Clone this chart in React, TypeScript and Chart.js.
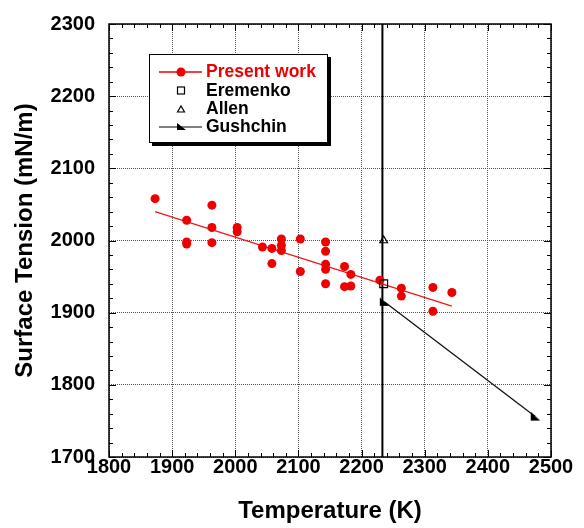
import { useEffect, useRef } from 'react';
import { Chart, registerables } from 'chart.js';

Chart.register(...registerables);

const FONT = '"Liberation Sans", Arial, Helvetica, sans-serif';
const RED = '#ee0000';

// Axis ticks
const xTickValues = [1800, 1900, 2000, 2100, 2200, 2300, 2400, 2500];
const yTickValues = [1700, 1800, 1900, 2000, 2100, 2200, 2300];
const xMinorStep = 20;
const yMinorStep = 20;

// Present work (measured points)
const presentTemp = [1873, 1923, 1923, 1923, 1963, 1963, 1963, 2003, 2003, 2043, 2058, 2058, 2073, 2073, 2073, 2103, 2103, 2143, 2143, 2143, 2143, 2143, 2173, 2173, 2183, 2183, 2229, 2263, 2263, 2313, 2313, 2343];
const presentTension = [2058, 2028, 1998, 1995, 2049, 2018, 1997, 2018, 2012, 1991, 1989, 1968, 2002, 1993, 1986, 2002, 1957, 1998, 1985, 1967, 1960, 1940, 1964, 1936, 1953, 1937, 1945, 1934, 1923, 1935, 1902, 1928];

// Present work linear fit
const fitTemp = [1873, 2343];
const fitTension = [2040, 1909];

// Literature
const eremenkoTemp = [2235];
const eremenkoTension = [1940];
const allenTemp = [2235];
const allenTension = [2000];
const gushchinTemp = [2236, 2475];
const gushchinTension = [1915, 1756];

// Melting point marker line
const meltTemp = [2233, 2233];
const meltTension = [1700, 2300];

const pts = (xs: number[], ys: number[]) => xs.map((x, i) => ({ x, y: ys[i] }));

function makeFlag(): HTMLCanvasElement {
  const c = document.createElement('canvas');
  c.width = 11;
  c.height = 10;
  const g = c.getContext('2d')!;
  g.fillStyle = '#000';
  g.beginPath();
  g.moveTo(1, 0.5);
  g.lineTo(1, 9);
  g.lineTo(10.5, 9);
  g.closePath();
  g.fill();
  return c;
}

const decorPlugin = {
  id: 'decor',
  afterDraw(chart: any) {
    const { ctx, chartArea: a, scales } = chart;
    const xs = scales.x;
    const ys = scales.y;
    ctx.save();
    ctx.strokeStyle = '#000';
    ctx.lineWidth = 1;
    ctx.beginPath();
    for (let v = xs.min; v <= xs.max; v += xMinorStep) {
      const px = Math.round(xs.getPixelForValue(v)) + 0.5;
      const len = v % 100 === 0 ? 7 : 4;
      ctx.moveTo(px, a.bottom);
      ctx.lineTo(px, a.bottom - len);
      ctx.moveTo(px, a.top);
      ctx.lineTo(px, a.top + len);
    }
    for (let v = ys.min; v <= ys.max; v += yMinorStep) {
      const py = Math.round(ys.getPixelForValue(v)) + 0.5;
      const len = v % 100 === 0 ? 7 : 4;
      ctx.moveTo(a.left, py);
      ctx.lineTo(a.left + len, py);
      ctx.moveTo(a.right, py);
      ctx.lineTo(a.right - len, py);
    }
    ctx.stroke();
    ctx.lineWidth = 1.5;
    ctx.strokeRect(a.left, a.top, a.right - a.left, a.bottom - a.top);

    // Legend box
    const bx = 149, by = 54, bw = 179, bh = 89;
    ctx.fillStyle = '#000';
    ctx.fillRect(bx + 3, by + 3, bw, bh);
    ctx.fillStyle = '#fff';
    ctx.fillRect(bx, by, bw, bh);
    ctx.lineWidth = 1;
    ctx.strokeStyle = '#000';
    ctx.strokeRect(bx + 0.5, by + 0.5, bw - 1, bh - 1);

    const lx0 = 159, lx1 = 202, mx = 181, tx = 206;
    const rows = [72, 90.5, 109, 127];
    const labels = chart.data.datasets
      .filter((d: any) => d.legendRow !== undefined)
      .sort((p: any, q: any) => p.legendRow - q.legendRow);
    ctx.font = `bold 17.5px ${FONT}`;
    ctx.textBaseline = 'middle';
    ctx.textAlign = 'left';
    labels.forEach((d: any, i: number) => {
      const y = rows[i];
      if (d.legendKind === 'present') {
        ctx.strokeStyle = RED;
        ctx.lineWidth = 1.5;
        ctx.beginPath();
        ctx.moveTo(lx0, y);
        ctx.lineTo(lx1, y);
        ctx.stroke();
        ctx.fillStyle = RED;
        ctx.beginPath();
        ctx.arc(mx, y, 4.5, 0, Math.PI * 2);
        ctx.fill();
        ctx.fillStyle = RED;
      } else if (d.legendKind === 'square') {
        ctx.strokeStyle = '#000';
        ctx.lineWidth = 1.2;
        ctx.strokeRect(mx - 3.5, y - 3.5, 7, 7);
        ctx.fillStyle = '#000';
      } else if (d.legendKind === 'triangle') {
        ctx.strokeStyle = '#000';
        ctx.lineWidth = 1.2;
        ctx.beginPath();
        ctx.moveTo(mx, y - 3);
        ctx.lineTo(mx + 3.5, y + 3);
        ctx.lineTo(mx - 3.5, y + 3);
        ctx.closePath();
        ctx.stroke();
        ctx.fillStyle = '#000';
      } else {
        ctx.strokeStyle = '#000';
        ctx.lineWidth = 1.2;
        ctx.beginPath();
        ctx.moveTo(lx0, y);
        ctx.lineTo(lx1, y);
        ctx.stroke();
        ctx.fillStyle = '#000';
        ctx.beginPath();
        ctx.moveTo(mx - 4, y - 4);
        ctx.lineTo(mx - 4, y + 3);
        ctx.lineTo(mx + 5, y + 3);
        ctx.closePath();
        ctx.fill();
      }
      ctx.fillText(d.label, tx, y + 0.5);
    });
    ctx.restore();
  },
};

export default function App() {
  const ref = useRef<HTMLCanvasElement>(null);
  useEffect(() => {
    const canvas = ref.current!;
    const flag = makeFlag();
    const chart = new Chart(canvas, {
      type: 'scatter',
      data: {
        datasets: [
          {
            label: 'Eremenko',
            legendRow: 1,
            legendKind: 'square',
            data: pts(eremenkoTemp, eremenkoTension),
            pointStyle: 'rect',
            pointRadius: 5.5,
            backgroundColor: 'rgba(0,0,0,0)',
            borderColor: '#000',
            borderWidth: 1.2,
          } as any,
          {
            label: 'Allen',
            legendRow: 2,
            legendKind: 'triangle',
            data: pts(allenTemp, allenTension),
            pointStyle: 'triangle',
            pointRadius: 4.5,
            backgroundColor: 'rgba(0,0,0,0)',
            borderColor: '#000',
            borderWidth: 1.2,
          } as any,
          {
            label: 'Present work',
            legendRow: 0,
            legendKind: 'present',
            data: pts(presentTemp, presentTension),
            pointStyle: 'circle',
            pointRadius: 4.5,
            backgroundColor: RED,
            borderWidth: 0,
          } as any,
          {
            label: 'Present work fit',
            data: pts(fitTemp, fitTension),
            showLine: true,
            pointRadius: 0,
            borderColor: '#f01818',
            borderWidth: 1.3,
          },
          {
            label: 'Gushchin',
            legendRow: 3,
            legendKind: 'gushchin',
            data: pts(gushchinTemp, gushchinTension),
            showLine: true,
            pointStyle: flag,
            pointRadius: 5,
            borderColor: '#111',
            borderWidth: 1.3,
          } as any,
          {
            label: 'Melting point',
            data: pts(meltTemp, meltTension),
            showLine: true,
            pointRadius: 0,
            borderColor: '#000',
            borderWidth: 2,
          },
        ],
      },
      options: {
        responsive: false,
        animation: false,
        events: [],
        layout: { padding: { top: 17, right: 33, left: 0, bottom: 0 } },
        plugins: {
          legend: { display: false },
          tooltip: { enabled: false },
          title: { display: false },
        },
        scales: {
          x: {
            type: 'linear',
            min: 1800,
            max: 2500,
            afterBuildTicks: (s: any) => {
              s.ticks = xTickValues.map((value) => ({ value }));
            },
            afterFit: (s: any) => {
              s.height = 71;
            },
            ticks: {
              callback: (v: any) => String(v),
              font: { family: FONT, size: 20, weight: 'bold', lineHeight: 1 },
              color: '#000',
              padding: 0,
              maxRotation: 0,
              autoSkip: false,
            },
            grid: { color: '#555', lineWidth: 1, drawTicks: false },
            border: { display: false, dash: [1, 1] },
            title: {
              display: true,
              text: 'Temperature (K)',
              color: '#000',
              font: { family: FONT, size: 24, weight: 'bold' },
              padding: { top: 0, bottom: 2 },
            },
          },
          y: {
            type: 'linear',
            min: 1700,
            max: 2300,
            afterBuildTicks: (s: any) => {
              s.ticks = yTickValues.map((value) => ({ value }));
            },
            afterFit: (s: any) => {
              s.width = 109;
            },
            ticks: {
              callback: (v: any) => String(v),
              font: { family: FONT, size: 20, weight: 'bold', lineHeight: 1 },
              color: '#000',
              padding: 14,
              autoSkip: false,
            },
            grid: { color: '#555', lineWidth: 1, drawTicks: false },
            border: { display: false, dash: [1, 1] },
            title: {
              display: true,
              text: 'Surface Tension (mN/m)',
              color: '#000',
              font: { family: FONT, size: 24, weight: 'bold' },
              padding: { top: 11, bottom: 0 },
            },
          },
        },
      },
      plugins: [decorPlugin],
    } as any);
    return () => chart.destroy();
  }, []);
  return (
    <div style={{ position: 'fixed', left: 0, top: 0, width: 584, height: 528, background: '#fff' }}>
      <canvas ref={ref} width={584} height={528} style={{ display: 'block', width: 584, height: 528 }} />
    </div>
  );
}
